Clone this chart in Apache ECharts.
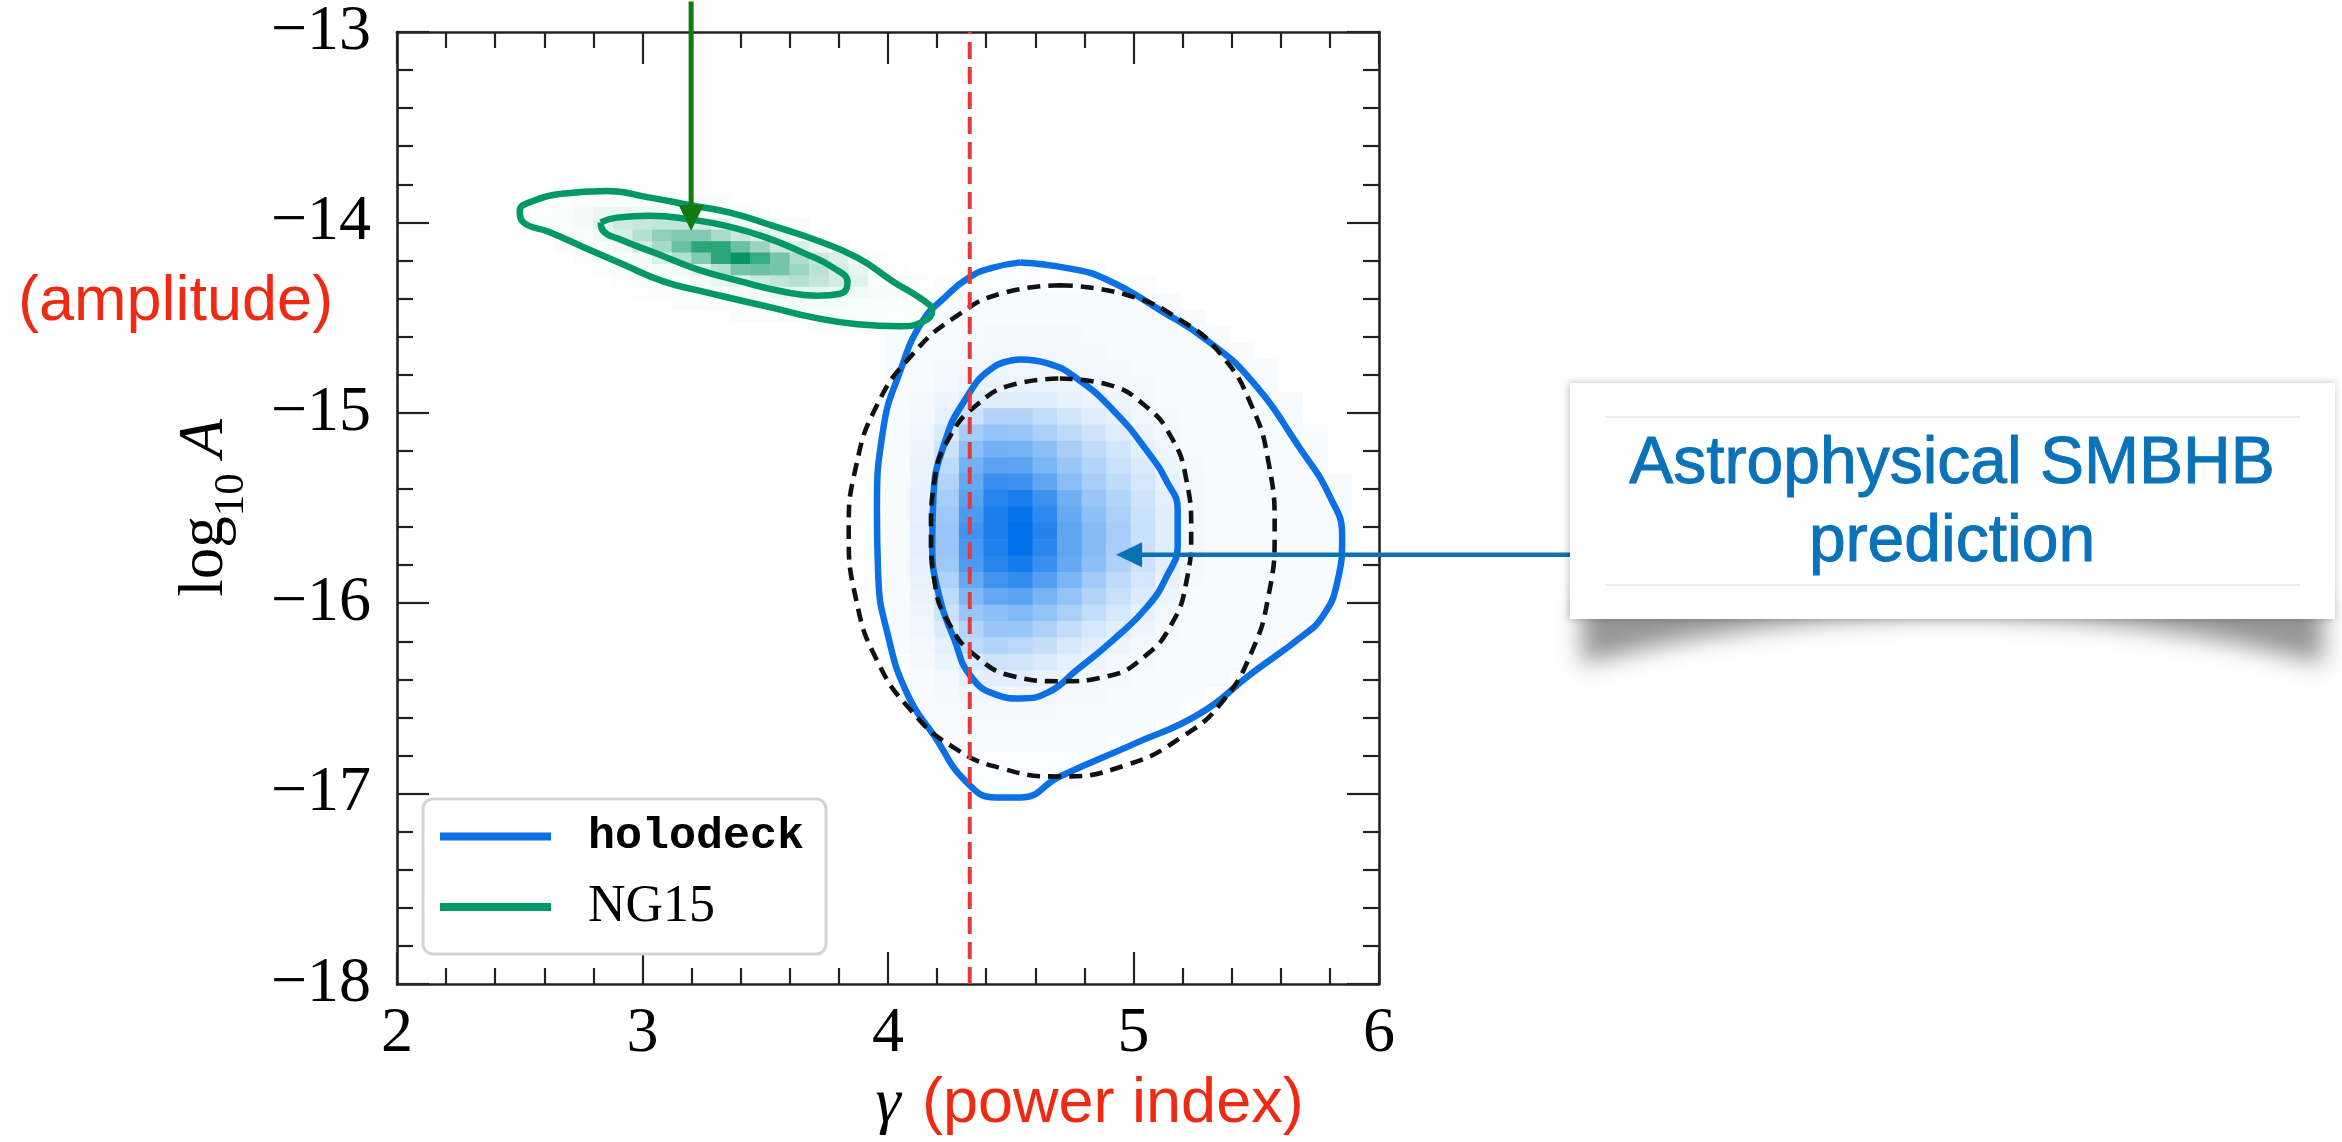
<!DOCTYPE html>
<html>
<head>
<meta charset="utf-8">
<script src="https://cdn.jsdelivr.net/npm/echarts@6/dist/echarts.min.js"></script>
<style>
html,body{margin:0;padding:0;background:#ffffff;}
#chart{width:2342px;height:1142px;}
</style>
</head>
<body>
<div id="chart"></div>
<script>
// ---------------- data ----------------
const gammaRange = [2, 6];
const logARange = [-18, -13];

// holodeck (blue) credible contours
const holodeckOuter = [[4.54,-14.21],[4.73,-14.24],[4.89,-14.30],[5.12,-14.47],[5.30,-14.62],[5.48,-14.83],[5.68,-15.19],[5.80,-15.44],[5.85,-15.65],[5.83,-15.89],[5.77,-16.07],[5.68,-16.18],[5.48,-16.37],[5.27,-16.58],[5.00,-16.74],[4.70,-16.91],[4.54,-17.02],[4.44,-17.02],[4.32,-16.94],[4.19,-16.70],[4.08,-16.48],[4.00,-16.17],[3.96,-15.85],[3.955,-15.52],[3.98,-15.09],[4.05,-14.78],[4.14,-14.52],[4.235,-14.39],[4.33,-14.29],[4.42,-14.24],[4.54,-14.21]];
const holodeckInner = [[4.54,-14.72],[4.65,-14.74],[4.77,-14.82],[4.92,-14.99],[5.055,-15.20],[5.135,-15.36],[5.18,-15.51],[5.18,-15.69],[5.135,-15.86],[5.055,-16.02],[4.92,-16.19],[4.77,-16.35],[4.65,-16.47],[4.54,-16.50],[4.44,-16.48],[4.335,-16.38],[4.27,-16.19],[4.21,-15.97],[4.18,-15.69],[4.185,-15.44],[4.23,-15.16],[4.31,-14.94],[4.43,-14.76],[4.54,-14.72]];

// NG15 (green) credible contours
const ng15Outer = [[2.67,-13.85],[2.855,-13.835],[3.03,-13.87],[3.195,-13.91],[3.36,-13.95],[3.535,-14.02],[3.70,-14.09],[3.875,-14.185],[4.02,-14.31],[4.145,-14.41],[4.18,-14.465],[4.145,-14.52],[4.05,-14.545],[3.875,-14.535],[3.70,-14.50],[3.535,-14.45],[3.40,-14.41],[3.235,-14.36],[3.085,-14.31],[2.92,-14.22],[2.76,-14.13],[2.62,-14.05],[2.515,-14.00],[2.50,-13.94],[2.56,-13.885],[2.67,-13.85]];
const ng15Inner = [[2.83,-14.00],[2.895,-13.975],[3.03,-13.965],[3.195,-13.985],[3.345,-14.02],[3.505,-14.08],[3.655,-14.16],[3.78,-14.24],[3.835,-14.315],[3.805,-14.375],[3.71,-14.385],[3.56,-14.36],[3.40,-14.31],[3.22,-14.245],[3.06,-14.165],[2.91,-14.09],[2.84,-14.045],[2.83,-14.00]];

// black dashed prediction contours
const modelOuter = [[4.70,-14.33],[4.97,-14.38],[5.20,-14.52],[5.36,-14.70],[5.48,-14.96],[5.55,-15.26],[5.575,-15.62],[5.55,-15.96],[5.48,-16.26],[5.36,-16.52],[5.20,-16.70],[4.97,-16.85],[4.70,-16.91],[4.47,-16.87],[4.27,-16.76],[4.095,-16.565],[3.955,-16.30],[3.87,-15.98],[3.84,-15.62],[3.87,-15.28],[3.955,-14.96],[4.095,-14.70],[4.27,-14.50],[4.47,-14.37],[4.70,-14.33]];
const modelInner = [[4.70,-14.82],[4.89,-14.85],[5.045,-14.96],[5.155,-15.13],[5.215,-15.35],[5.235,-15.62],[5.215,-15.89],[5.155,-16.11],[5.045,-16.28],[4.89,-16.385],[4.70,-16.41],[4.515,-16.385],[4.36,-16.28],[4.25,-16.11],[4.19,-15.89],[4.175,-15.62],[4.19,-15.35],[4.25,-15.13],[4.36,-14.96],[4.515,-14.85],[4.70,-14.82]];

// red dashed vertical line (gamma = 13/3)
const gammaLine = [[4.333,-18],[4.333,-13]];

// arrows [from, to]
const ng15Arrow = [[3.198,-12.84],[3.198,-14.045]];
const smbhbArrow = [[7.125,-15.745],[4.929,-15.745]];

// holodeck 2D histogram (percent of peak)
const blueGammaEdges = [3.89,3.99,4.09,4.19,4.29,4.39,4.49,4.59,4.69,4.79,4.89,4.99,5.09,5.19,5.29,5.39,5.49,5.59,5.69,5.79,5.89];
const blueLogAEdges = [-14.203,-14.289,-14.375,-14.461,-14.547,-14.633,-14.719,-14.805,-14.891,-14.977,-15.063,-15.149,-15.235,-15.321,-15.407,-15.493,-15.579,-15.665,-15.751,-15.837,-15.923,-16.009,-16.095,-16.181,-16.267,-16.353,-16.439,-16.525,-16.611,-16.697,-16.783,-16.869,-16.955,-17.041];
const blueDensity = [
[0,0,0,0,0,2,2,2,2,2,0,0,0,0,0,0,0,0,0,0],
[0,0,0,2,2,2,2,2,2,2,2,2,0,0,0,0,0,0,0,0],
[0,0,2,3,3,3,3,3,3,3,3,3,3,0,0,0,0,0,0,0],
[0,0,3,3,3,3,3,3,3,3,3,3,3,3,0,0,0,0,0,0],
[0,3,3,3,3,4,4,4,4,3,3,3,3,3,3,0,0,0,0,0],
[0,3,3,3,4,5,5,5,4,4,3,3,3,3,3,3,0,0,0,0],
[0,3,3,4,5,6,6,6,5,5,4,3,3,3,3,3,3,0,0,0],
[0,3,3,5,7,8,8,8,7,6,5,4,3,3,3,3,3,0,0,0],
[0,3,4,7,12,13,13,12,10,8,6,4,3,3,3,3,3,3,0,0],
[0,3,5,10,20,30,30,24,18,13,9,6,4,3,3,3,3,3,0,0],
[0,3,6,15,35,42,40,33,26,19,13,8,5,3,3,3,3,3,3,0],
[0,3,7,20,45,55,54,45,34,25,18,11,6,3,3,3,3,3,3,0],
[0,3,8,25,55,65,64,52,40,30,21,14,7,4,3,3,3,3,3,0],
[0,3,9,30,60,78,76,62,46,34,25,17,9,5,3,3,3,3,3,3],
[0,3,10,35,65,85,90,76,56,40,30,19,11,5,3,3,3,3,3,3],
[0,3,10,38,70,90,97,82,60,45,33,21,12,5,3,3,3,3,3,3],
[0,3,11,40,75,90,100,86,63,48,35,22,12,5,3,3,3,3,3,3],
[0,3,11,40,72,88,100,84,63,48,34,21,12,5,3,3,3,3,3,3],
[0,3,10,38,70,85,92,78,60,45,32,20,11,5,3,3,3,3,3,3],
[0,3,9,32,60,75,80,67,52,37,26,17,9,4,3,3,3,3,3,3],
[0,3,8,26,50,60,65,53,42,30,22,14,7,3,3,3,3,3,3,0],
[0,3,7,20,40,45,50,42,33,24,16,10,5,3,3,3,3,3,3,0],
[0,3,6,15,30,40,40,32,24,17,12,7,4,3,3,3,3,3,0,0],
[0,3,5,10,25,30,28,23,16,11,8,5,3,3,3,3,3,0,0,0],
[0,0,4,8,15,20,18,15,10,7,5,4,3,3,3,3,0,0,0,0],
[0,0,3,5,10,12,12,8,6,5,4,3,3,3,3,0,0,0,0,0],
[0,0,3,4,6,7,6,5,4,4,3,3,3,3,0,0,0,0,0,0],
[0,0,3,3,4,4,4,4,3,3,3,3,3,0,0,0,0,0,0,0],
[0,0,0,3,3,3,3,3,3,3,3,3,0,0,0,0,0,0,0,0],
[0,0,0,2,3,3,3,3,3,3,2,0,0,0,0,0,0,0,0,0],
[0,0,0,0,2,2,2,2,2,2,0,0,0,0,0,0,0,0,0,0],
[0,0,0,0,2,2,2,2,2,0,0,0,0,0,0,0,0,0,0,0],
[0,0,0,0,0,2,2,0,0,0,0,0,0,0,0,0,0,0,0,0]
];

// NG15 2D histogram (percent of peak)
const greenGammaEdges = [2.48,2.56,2.64,2.72,2.80,2.88,2.96,3.04,3.12,3.20,3.28,3.36,3.44,3.52,3.60,3.68,3.76,3.84,3.92,4.00,4.08,4.16,4.24];
const greenLogAEdges = [-13.80,-13.86,-13.92,-13.98,-14.04,-14.10,-14.16,-14.22,-14.28,-14.34,-14.40,-14.46,-14.52,-14.58];
const greenDensity = [
[0,0,0,2,2,2,2,2,0,0,0,0,0,0,0,0,0,0,0,0,0,0],
[0,2,2,3,3,3,3,3,3,3,2,0,0,0,0,0,0,0,0,0,0,0],
[0,2,3,5,8,8,7,6,5,4,3,3,2,0,0,0,0,0,0,0,0,0],
[0,2,3,4,12,20,22,25,25,20,12,6,3,3,2,0,0,0,0,0,0,0],
[0,0,2,3,6,15,30,45,50,50,35,22,15,10,4,2,0,0,0,0,0,0],
[0,0,2,3,3,6,18,35,60,85,85,60,40,22,15,8,3,0,0,0,0,0],
[0,0,0,2,3,3,5,15,30,50,85,100,80,55,32,22,15,4,2,0,0,0],
[0,0,0,0,2,3,3,4,6,12,30,55,60,55,40,28,18,10,3,2,0,0],
[0,0,0,0,0,2,3,3,3,5,8,12,20,25,30,25,18,12,3,3,2,0],
[0,0,0,0,0,0,2,3,3,3,4,5,6,8,10,10,8,6,4,3,2,2],
[0,0,0,0,0,0,0,0,2,2,3,3,3,4,4,4,4,3,3,3,2,2],
[0,0,0,0,0,0,0,0,0,0,0,2,2,2,3,3,3,3,3,2,2,0],
[0,0,0,0,0,0,0,0,0,0,0,0,0,0,0,2,2,2,2,0,0,0]
];

// ---------------- helpers ----------------
function cellsFrom(gEdges, aEdges, density) {
  const out = [];
  for (let r = 0; r < density.length; r++) {
    for (let c = 0; c < density[r].length; c++) {
      if (density[r][c] > 0) out.push([gEdges[c], gEdges[c + 1], aEdges[r], aEdges[r + 1], density[r][c]]);
    }
  }
  return out;
}
function heatRender(rgb) {
  return function (params, api) {
    const a = api.coord([api.value(0), api.value(2)]);
    const b = api.coord([api.value(1), api.value(3)]);
    const t = api.value(4) / 100;
    const col = 'rgb(' + rgb.map(function (ch) { return Math.round(255 - (255 - ch) * t); }).join(',') + ')';
    return {
      type: 'rect',
      shape: { x: Math.min(a[0], b[0]) - 0.3, y: Math.min(a[1], b[1]) - 0.3, width: Math.abs(b[0] - a[0]) + 0.6, height: Math.abs(b[1] - a[1]) + 0.6 },
      style: { fill: col }
    };
  };
}
function arrowRender(color, lw) {
  return function (params, api) {
    const p0 = api.coord([api.value(0), api.value(1)]);
    const p1 = api.coord([api.value(2), api.value(3)]);
    const dx = p1[0] - p0[0], dy = p1[1] - p0[1];
    const L = Math.sqrt(dx * dx + dy * dy);
    const ux = dx / L, uy = dy / L;
    const hl = 26, hw = 12.5;
    const bx = p1[0] - ux * hl, by = p1[1] - uy * hl;
    return {
      type: 'group',
      children: [
        { type: 'line', shape: { x1: p0[0], y1: p0[1], x2: bx + ux * 2, y2: by + uy * 2 }, style: { stroke: color, lineWidth: lw } },
        { type: 'polygon', shape: { points: [[p1[0], p1[1]], [bx - uy * hw, by + ux * hw], [bx + uy * hw, by - ux * hw]] }, style: { fill: color } }
      ]
    };
  };
}
function contour(name, data, color, width, dash, z) {
  return {
    type: 'line', name: name, data: data, smooth: 0.5, symbol: 'none', showSymbol: false,
    silent: true, z: z, color: color,
    itemStyle: { color: color },
    lineStyle: { color: color, width: width, type: dash || 'solid', cap: 'butt', join: 'round' }
  };
}
function axisBase(extra) {
  return Object.assign({
    type: 'value',
    splitLine: { show: false },
    axisLine: { show: true, onZero: false, lineStyle: { color: '#222', width: 2.6 } },
    axisTick: { show: true, inside: true, length: 32, lineStyle: { color: '#222', width: 2.2 } },
    minorTick: { show: true, splitNumber: 5, length: 16, lineStyle: { color: '#222', width: 2.2 } },
    minorSplitLine: { show: false }
  }, extra);
}
const minusFmt = function (v) { return v < 0 ? '\u2212' + Math.abs(v) : String(v); };

// page-curl shadow polygon under the callout
const curlPts = [[1582, 600], [2323, 600], [2323, 664]];
for (let i = 1; i <= 30; i++) {
  const t = i / 30;
  const x = (1 - t) * (1 - t) * 2323 + 2 * (1 - t) * t * 1952 + t * t * 1582;
  const y = (1 - t) * (1 - t) * 664 + 2 * (1 - t) * t * 566 + t * t * 664;
  curlPts.push([x, y]);
}

const chart = echarts.init(document.getElementById('chart'), null, { renderer: 'canvas', width: 2342, height: 1142 });

const option = {
  animation: false,
  backgroundColor: '#ffffff',
  grid: { left: 397, top: 31, width: 982, height: 953, containLabel: false },
  xAxis: [
    axisBase({
      position: 'bottom', min: gammaRange[0], max: gammaRange[1], interval: 1,
      axisLabel: { margin: 18, fontFamily: 'Liberation Serif', fontSize: 64, color: '#000' },
      name: 'γ', nameLocation: 'middle', nameGap: 88,
      nameTextStyle: { fontFamily: 'Liberation Serif', fontStyle: 'italic', fontSize: 64, color: '#000' }
    }),
    axisBase({ position: 'top', min: gammaRange[0], max: gammaRange[1], interval: 1, axisLabel: { show: false } })
  ],
  yAxis: [
    axisBase({
      position: 'left', min: logARange[0], max: logARange[1], interval: 1,
      axisLabel: { margin: 26, fontFamily: 'Liberation Serif', fontSize: 64, color: '#000', formatter: minusFmt },
      name: '{t|log}{s|10}{i| A}', nameLocation: 'middle', nameGap: 144,
      nameTextStyle: {
        rich: {
          t: { fontFamily: 'Liberation Serif', fontSize: 63, lineHeight: 96, color: '#000' },
          s: { fontFamily: 'Liberation Serif', fontSize: 43, lineHeight: 42, verticalAlign: 'bottom', color: '#000' },
          i: { fontFamily: 'Liberation Serif', fontStyle: 'italic', fontSize: 63, lineHeight: 96, color: '#000' }
        }
      }
    }),
    axisBase({ position: 'right', min: logARange[0], max: logARange[1], interval: 1, axisLabel: { show: false } })
  ],
  legend: {
    left: 423, top: 799, orient: 'vertical',
    data: [{ name: 'holodeck' }, { name: 'NG15' }],
    icon: 'rect', itemWidth: 111, itemHeight: 8, itemGap: 22,
    itemStyle: { borderWidth: 0 },
    selectedMode: false,
    backgroundColor: '#ffffff', borderColor: '#d4d4d4', borderWidth: 3, borderRadius: 10,
    padding: [15, 22, 21, 17],
    formatter: function (name) { return name === 'holodeck' ? '{m|holodeck}' : '{s|NG15}'; },
    textStyle: {
      rich: {
        m: { fontFamily: 'Liberation Mono', fontWeight: 'bold', fontSize: 45, lineHeight: 50, padding: [0, 0, 0, 32], color: '#000' },
        s: { fontFamily: 'Liberation Serif', fontSize: 52, lineHeight: 50, padding: [0, 0, 0, 32], color: '#000' }
      }
    },
    z: 8
  },
  series: [
    { type: 'custom', name: 'holodeck-hist', renderItem: heatRender([0, 112, 235]), data: cellsFrom(blueGammaEdges, blueLogAEdges, blueDensity), encode: { x: [0, 1], y: [2, 3] }, silent: true, z: 1 },
    { type: 'custom', name: 'NG15-hist', renderItem: heatRender([5, 150, 100]), data: cellsFrom(greenGammaEdges, greenLogAEdges, greenDensity), encode: { x: [0, 1], y: [2, 3] }, silent: true, z: 1 },
    contour('holodeck', holodeckOuter, '#0a70e4', 6.5, null, 3),
    contour('holodeck', holodeckInner, '#0a70e4', 6.5, null, 3),
    contour('NG15', ng15Outer, '#009864', 6.5, null, 3),
    contour('NG15', ng15Inner, '#009864', 6.5, null, 3),
    contour('model', modelOuter, '#111111', 4.6, [13, 8], 4),
    contour('model', modelInner, '#111111', 4.6, [13, 8], 4),
    { type: 'line', name: 'gamma', data: gammaLine, symbol: 'none', silent: true, z: 5, lineStyle: { color: '#e43a3a', width: 4, type: [17, 8], cap: 'butt' }, itemStyle: { color: '#e43a3a' } },
    { type: 'custom', name: 'arrowNG15', renderItem: arrowRender('#137a13', 5), data: [ng15Arrow[0].concat(ng15Arrow[1])], encode: { x: [0, 2], y: [1, 3] }, silent: true, clip: false, z: 12 },
    { type: 'custom', name: 'arrowSMBHB', renderItem: arrowRender('#0a72b4', 4.5), data: [smbhbArrow[0].concat(smbhbArrow[1])], encode: { x: [0, 2], y: [1, 3] }, silent: true, clip: false, z: 12 }
  ],
  graphic: {
    elements: [
      { type: 'text', x: 18, y: 303, z: 20, style: { text: '(amplitude)', font: '63px "Liberation Sans"', fill: '#ef2a12', textAlign: 'left', textVerticalAlign: 'middle', align: 'left', verticalAlign: 'middle' } },
      { type: 'text', x: 922, y: 1105, z: 20, style: { text: '(power index)', font: '63px "Liberation Sans"', fill: '#ef2a12', textAlign: 'left', textVerticalAlign: 'middle', align: 'left', verticalAlign: 'middle' } },
      { type: 'polygon', x: -3000, z: 15, shape: { points: curlPts }, style: { fill: '#000', shadowBlur: 24, shadowColor: 'rgba(0,0,0,0.42)', shadowOffsetX: 3000, shadowOffsetY: 0 } },
      { type: 'rect', z: 16, shape: { x: 1570, y: 383, width: 765, height: 236 }, style: { fill: '#ffffff', shadowBlur: 8, shadowColor: 'rgba(0,0,0,0.25)', shadowOffsetX: -1, shadowOffsetY: 0 } },
      { type: 'line', z: 17, shape: { x1: 1605, y1: 417, x2: 2300, y2: 417 }, style: { stroke: '#e6e6e6', lineWidth: 1.5 } },
      { type: 'line', z: 17, shape: { x1: 1605, y1: 585, x2: 2300, y2: 585 }, style: { stroke: '#e6e6e6', lineWidth: 1.5 } },
      { type: 'text', x: 1952, y: 465, z: 18, style: { text: 'Astrophysical SMBHB', font: '66px "Liberation Sans"', fill: '#0a72b9', stroke: '#0a72b9', lineWidth: 1, textAlign: 'center', textVerticalAlign: 'middle', align: 'center', verticalAlign: 'middle' } },
      { type: 'text', x: 1952, y: 543, z: 18, style: { text: 'prediction', font: '66px "Liberation Sans"', fill: '#0a72b9', stroke: '#0a72b9', lineWidth: 1, textAlign: 'center', textVerticalAlign: 'middle', align: 'center', verticalAlign: 'middle' } }
    ]
  }
};
chart.setOption(option);
</script>
</body>
</html>
